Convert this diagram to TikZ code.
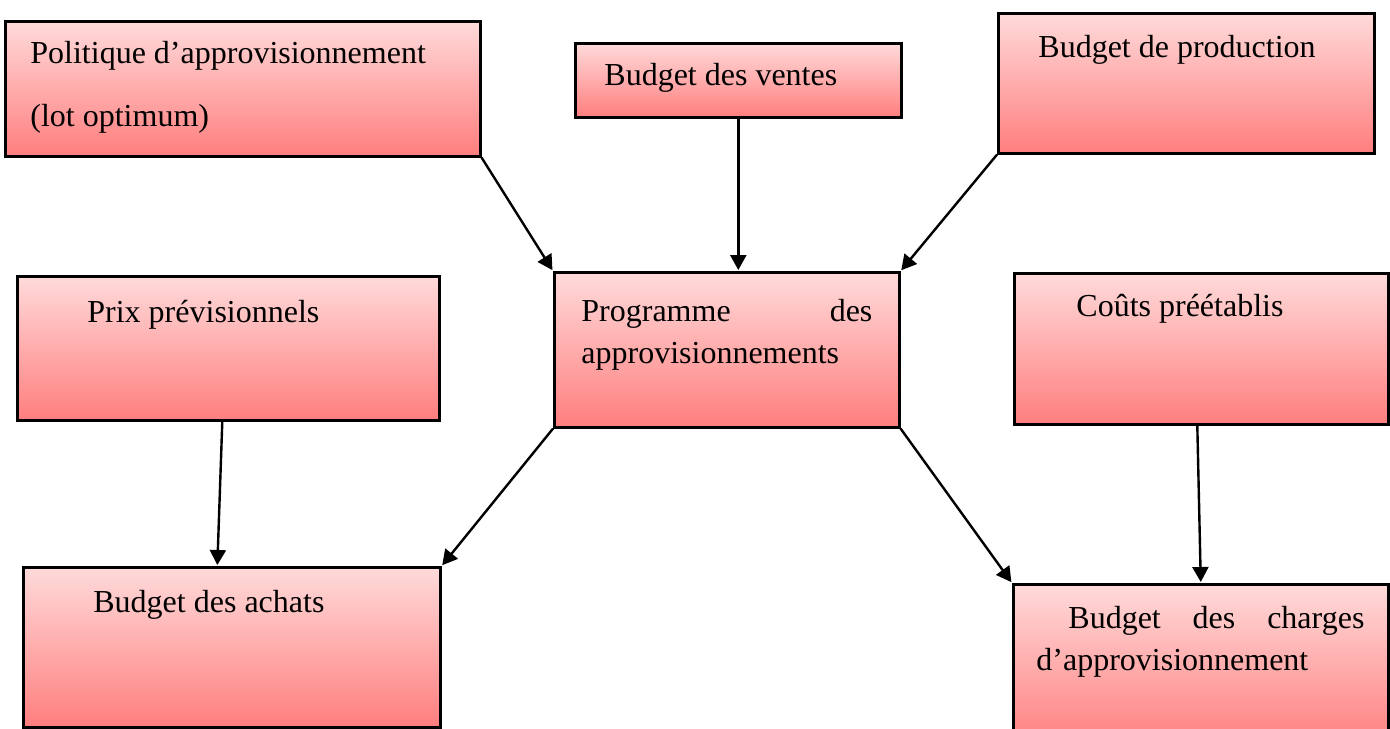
\documentclass[tikz,border=0pt]{standalone}
\usepackage{fontspec}
\setmainfont{Liberation Serif}
\usetikzlibrary{arrows.meta}
\definecolor{boxtop}{RGB}{255,218,218}
\definecolor{boxbottom}{RGB}{255,126,126}
\tikzset{
  box/.style={rectangle, draw=black, line width=1.3pt, inner sep=0pt,
    anchor=north west, top color=boxtop, bottom color=boxbottom},
  label/.style={anchor=base west, inner sep=0pt, font=\fontsize{16pt}{19pt}\selectfont},
  link/.style={line width=1.2pt, -{Triangle[length=7.5pt,width=8pt]}, shorten >=0.5pt}
}
\begin{document}
\begin{tikzpicture}[x=0.5pt, y=-0.5pt]
\useasboundingbox (0,0) rectangle (1390,728);

% boxes
\node[box, minimum width=237.5pt, minimum height=67.5pt] (pol) at (4,20) {};
\node[box, minimum width=163pt, minimum height=37pt] (ven) at (574,42) {};
\node[box, minimum width=188pt, minimum height=70pt] (prod) at (997,12) {};
\node[box, minimum width=211pt, minimum height=72pt] (prix) at (16,275) {};
\node[box, minimum width=172.5pt, minimum height=77.5pt] (prog) at (553,271) {};
\node[box, minimum width=187pt, minimum height=75.5pt] (couts) at (1013,272) {};
\node[box, minimum width=208.5pt, minimum height=80pt] (ach) at (22,566) {};
\node[box, minimum width=187.5pt, minimum height=82pt] (chg) at (1012,583) {};

% labels
\node[label] (tpol1) at (30,63) {Politique d’approvisionnement};
\node[label] (tpol2) at (30,126) {(lot optimum)};
\node[label] (tven) at (604,85) {Budget des ventes};
\node[label] (tprod) at (1038,57) {Budget de production};
\node[label] (tprix) at (87,322) {Prix prévisionnels};
\node[label] (tprog1) at (581,321) {\makebox[145.5pt][s]{Programme\hfill des}};
\node[label] (tprog2) at (581,363) {approvisionnements};
\node[label] (tcouts) at (1076,316) {Coûts préétablis};
\node[label] (tach) at (93,612) {Budget des achats};
\node[label] (tchg1) at (1068,628) {\makebox[148pt][s]{Budget\hfill des\hfill charges}};
\node[label] (tchg2) at (1036,670) {d’approvisionnement};

% connectors
\draw[link] (pol.south east) -- (prog.north west);
\draw[link] (ven.south) -- (ven.south |- prog.north);
\draw[link] (prod.south west) -- (prog.north east);
\draw[link] ([xshift=-3pt]prix.south) -- ([xshift=-7.25pt]ach.north);
\draw[link] (prog.south west) -- (ach.north east);
\draw[link] (prog.south east) -- (chg.north west);
\draw[link] ([xshift=-2pt]couts.south) -- (chg.north);
\end{tikzpicture}
\end{document}
